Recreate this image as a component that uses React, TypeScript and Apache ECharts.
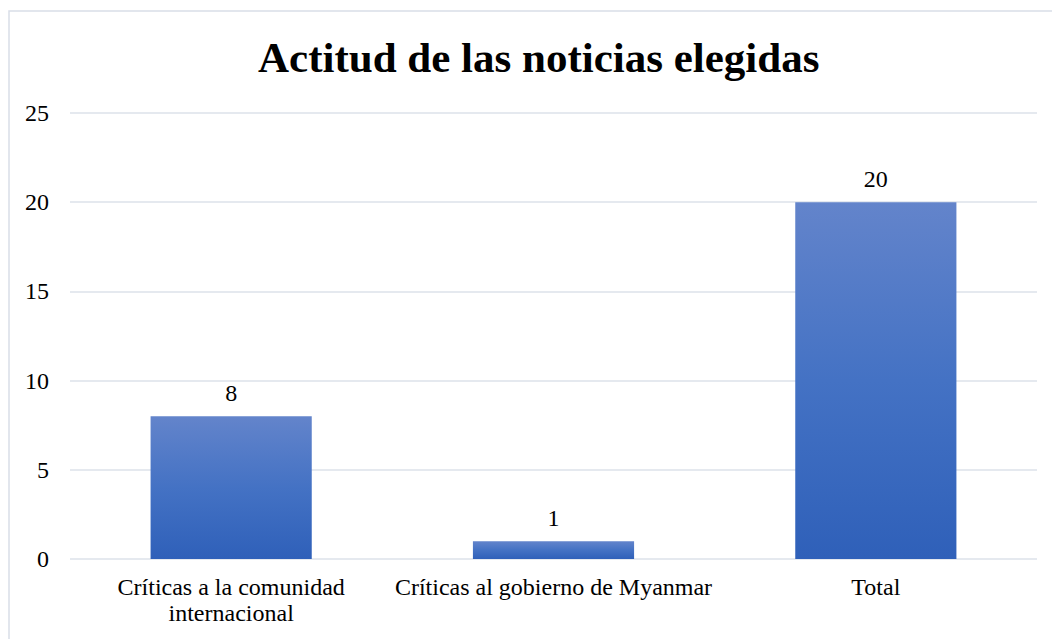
import React, { useEffect, useRef } from "react";
import * as echarts from "echarts";

const categories = ["Críticas a la comunidad\ninternacional", "Críticas al gobierno de Myanmar", "Total"];
const values = [8, 1, 20];
const titleText = "Actitud de las noticias elegidas";

export default function App() {
  const ref = useRef<HTMLDivElement>(null);
  useEffect(() => {
    const chart = echarts.init(ref.current!, null, { renderer: "svg" });
    const font = "Liberation Serif";
    chart.setOption({
      animation: false,
      backgroundColor: "#ffffff",
      title: {
        text: titleText,
        left: 253,
        top: 31,
        textStyle: { fontFamily: font, fontWeight: "bold", fontSize: 43, color: "#000000" },
      },
      graphic: [
        {
          type: "rect",
          shape: { x: 9, y: 11, width: 1100, height: 700 },
          style: { fill: "none", stroke: "#d9dee8", lineWidth: 1.5 },
          silent: true,
        },
      ],
      grid: { left: 70, right: 15, top: 113, bottom: 80, containLabel: false },
      xAxis: {
        type: "category",
        data: categories,
        axisLine: { show: false },
        axisTick: { show: false },
        axisLabel: { fontFamily: font, fontSize: 24, color: "#000000", margin: 15, lineHeight: 26, interval: 0 },
      },
      yAxis: {
        type: "value",
        min: 0,
        max: 25,
        interval: 5,
        axisLine: { show: false },
        axisTick: { show: false },
        splitLine: { lineStyle: { color: "#dde2ea", width: 1.5 } },
        axisLabel: { fontFamily: font, fontSize: 24, color: "#000000", margin: 21 },
      },
      series: [
        {
          type: "bar",
          data: values,
          barWidth: "50%",
          itemStyle: {
            color: new echarts.graphic.LinearGradient(0, 0, 0, 1, [
              { offset: 0, color: "#6384cb" },
              { offset: 0.5, color: "#4472c4" },
              { offset: 1, color: "#2f60b9" },
            ]),
          },
          label: {
            show: true,
            position: "top",
            distance: 11,
            fontFamily: font,
            fontSize: 24,
            color: "#000000",
          },
        },
      ],
    });
    return () => chart.dispose();
  }, []);
  return <div ref={ref} style={{ position: "fixed", left: 0, top: 0, width: 1052, height: 639 }} />;
}
